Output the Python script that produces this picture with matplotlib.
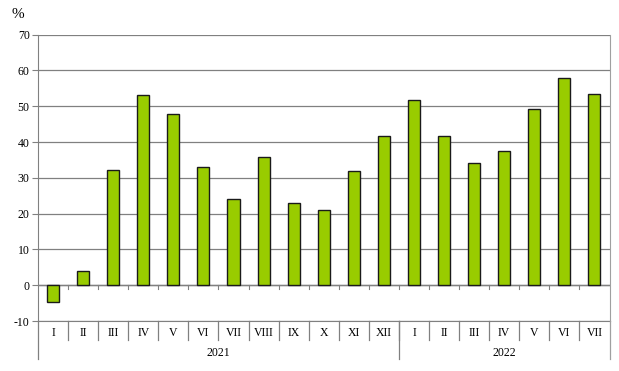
import matplotlib
matplotlib.use("Agg")
import matplotlib.pyplot as plt
from matplotlib.transforms import blended_transform_factory
from matplotlib.lines import Line2D

months = ["I", "II", "III", "IV", "V", "VI", "VII", "VIII", "IX", "X", "XI", "XII",
          "I", "II", "III", "IV", "V", "VI", "VII"]
years = ["2021", "2022"]
year_counts = [12, 7]
values = [-4.6, 4.0, 32.2, 53.2, 47.8, 33.0, 24.1, 35.8, 23.1, 21.1, 32.0, 41.7,
          51.7, 41.7, 34.2, 37.5, 49.2, 57.9, 53.4]
yticks = [-10, 0, 10, 20, 30, 40, 50, 60, 70]

W, H = 619, 371
plt.rcParams['font.family'] = ['Liberation Serif', 'DejaVu Serif']
fig = plt.figure(figsize=(W / 100, H / 100), dpi=100)
ax = fig.add_axes([38 / W, (H - 321) / H, (609.5 - 38) / W, (321 - 34.7) / H])

n = len(values)
x = list(range(n))
ax.bar(x, values, width=0.4, color="#99CC00", edgecolor="#1a1a1a", linewidth=1.0, zorder=3)
ax.set_xlim(-0.5, n - 0.5)
ax.set_ylim(-10, 70)
ax.set_yticks(yticks)
ax.set_yticklabels([str(t) for t in yticks], fontsize=8.5)
ax.yaxis.grid(True, color="#808080", linewidth=0.9, zorder=0)
ax.tick_params(axis='y', length=4, color="#808080", pad=2)
ax.set_xticks([])
ax.spines["top"].set_visible(False)
ax.spines["right"].set_color("#A0A0A0")
ax.spines["left"].set_color("#808080")
ax.spines["bottom"].set_color("#808080")

# zero axis with tick marks
ax.axhline(0, color="#808080", linewidth=1.0, zorder=2)
for b in range(1, n):
    ax.plot([b - 0.5, b - 0.5], [0, -1.0], color="#808080", linewidth=0.8, zorder=2)

tr = blended_transform_factory(ax.transData, fig.transFigure)
def fy(py):
    return (H - py) / H

# month labels and separators
for i, m in enumerate(months):
    ax.text(i, fy(333), m, transform=tr, ha="center", va="center", fontsize=8.5)
for b in range(1, n):
    fig.add_artist(Line2D([b - 0.5, b - 0.5], [fy(321), fy(340)], transform=tr,
                          color="#808080", linewidth=0.9))
# year labels and long separators
start = 0
bounds = [-0.5]
for yr, c in zip(years, year_counts):
    center = start + (c - 1) / 2
    ax.text(center, fy(353), yr, transform=tr, ha="center", va="center", fontsize=8.5)
    start += c
    bounds.append(start - 0.5)
for b in bounds:
    col = "#808080" if b < n - 1 else "#A0A0A0"
    fig.add_artist(Line2D([b, b], [fy(321), fy(359)], transform=tr,
                          color=col, linewidth=0.9))

fig.text(12 / W, fy(14), "%", ha="left", va="center", fontsize=11)

fig.savefig("out.png", dpi=100)
